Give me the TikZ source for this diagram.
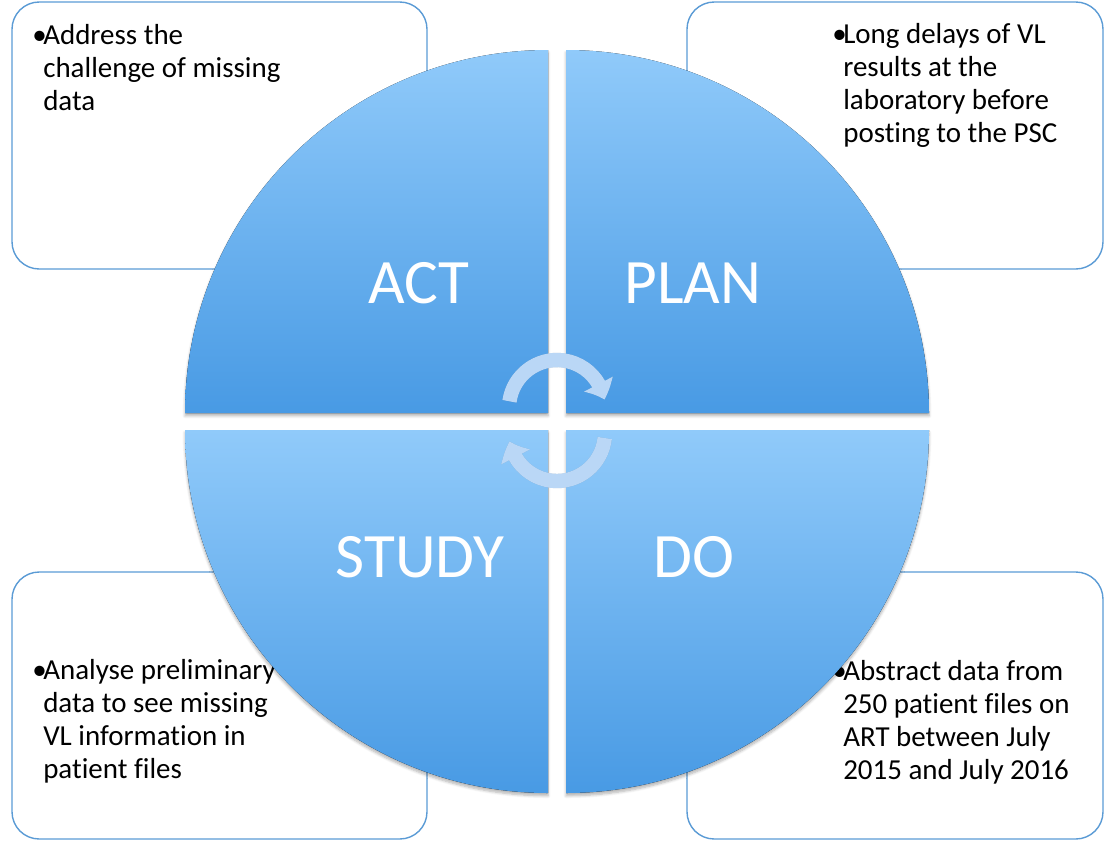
\documentclass[tikz,border=0pt]{standalone}
\usepackage{fontspec}
\setmainfont{Carlito}[Ligatures={NoCommon}]
\usetikzlibrary{shadows.blur,arrows.meta,bending}

\definecolor{boxblue}{RGB}{91,155,213}
\definecolor{quadlight}{RGB}{144,202,250}
\definecolor{quaddark}{RGB}{72,154,228}
\definecolor{arrowblue}{RGB}{186,215,246}

% bullet in its own narrow column, lines after the first hang under the text
\newcommand{\pointlist}[1]{\begin{tabular}[t]{@{}p{0.275cm}@{}l@{}}\textbullet & #1\end{tabular}}

\tikzset{
  notebox/.style={draw=boxblue, line width=1pt, rounded corners=0.68cm},
  notetext/.style={anchor=base west, inner sep=0pt, font=\fontsize{20.6}{23.5}\selectfont},
  quadrant/.style={top color=quadlight, bottom color=quaddark,
    blur shadow={shadow xshift=0pt, shadow yshift=-2pt, shadow blur steps=6, shadow opacity=30}},
  quadlabel/.style={anchor=base, inner sep=0pt, text=white, font=\fontsize{45}{45}\selectfont},
  cyclearrow/.style={line width=0.36cm, arrowblue, -{Triangle[bend, length=0.42cm, width=0.78cm]}},
}

\begin{document}
\begin{tikzpicture}[x=0.025cm, y=-0.025cm]
  \useasboundingbox (0,0) rectangle (1105,843);

  % corner boxes with their notes
  \draw[notebox] (12,2) rectangle (427,269);
  \draw[notebox] (687,2) rectangle (1103,269);
  \draw[notebox] (12,572) rectangle (427,839);
  \draw[notebox] (687,572) rectangle (1103,839);

  \node[notetext] (actnote) at (32,44) {\pointlist{Address the\\ & challenge of missing\\ & data}};
  \node[notetext] (plannote) at (832,43) {\pointlist{Long delays of VL\\ & results at the\\ & laboratory before\\ & posting to the PSC}};
  \node[notetext] (studynote) at (32,679) {\pointlist{Analyse preliminary\\ & data to see missing\\ & VL information in\\ & patient files}};
  \node[notetext] (donote) at (832,680) {\pointlist{Abstract data from\\ & 250 patient files on\\ & ART between July\\ & 2015 and July 2016}};

  % the four quarters of the wheel
  \fill[quadrant] (548,413) -- (185,413) arc[start angle=180, end angle=270, radius=363] -- cycle;
  \fill[quadrant] (566,413) -- (566,50) arc[start angle=270, end angle=360, radius=363] -- cycle;
  \fill[quadrant] (548,430) -- (185,430) arc[start angle=180, end angle=90, radius=363] -- cycle;
  \fill[quadrant] (566,430) -- (929,430) arc[start angle=0, end angle=90, radius=363] -- cycle;

  \node[quadlabel] (act) at (419,303) {ACT};
  \node[quadlabel] (plan) at (693,303) {PLAN};
  \node[quadlabel] (study) at (420,577) {STUDY};
  \node[quadlabel] (do) at (694,577) {DO};

  % turning arrows in the hub
  \coordinate (hubtop) at (557,408);
  \coordinate (hubbottom) at (557,433);
  \begin{scope}[yshift=-2pt, opacity=0.15]
    \draw[cyclearrow, black] (hubtop) ++(188:48) arc[start angle=188, end angle=350, radius=48];
    \draw[cyclearrow, black] (hubbottom) ++(6:48) arc[start angle=6, end angle=170, radius=48];
  \end{scope}
  \draw[cyclearrow] (hubtop) ++(188:48) arc[start angle=188, end angle=350, radius=48];
  \draw[cyclearrow] (hubbottom) ++(6:48) arc[start angle=6, end angle=170, radius=48];
\end{tikzpicture}
\end{document}
